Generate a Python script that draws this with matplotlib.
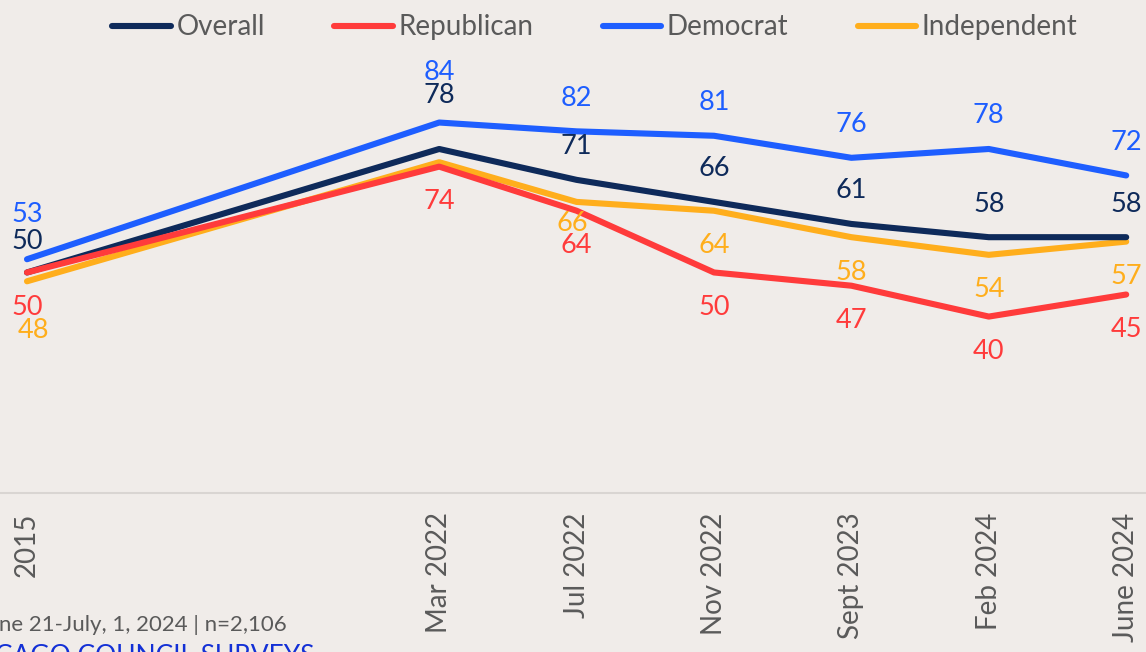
import matplotlib.pyplot as plt

plt.rcParams['font.family'] = ['Lato', 'DejaVu Sans']

c_bg = "#F0ECE9"
c_text = "#5A5A5A"

waves = ["2015", "Mar 2022", "Jul 2022", "Nov 2022", "Sept 2023", "Feb 2024", "June 2024"]
wave_pos = [0, 3, 4, 5, 6, 7, 8]

overall = [50, 78, 71, 66, 61, 58, 58]
republican = [50, 74, 64, 50, 47, 40, 45]
democrat = [53, 84, 82, 81, 76, 78, 72]
independent = [48, 75, 66, 64, 58, 54, 57]

# name, values, colour, label side (-1 above / +1 below), zorder
series = [
    ("Overall", overall, "#0E2A5A", -1, 3),
    ("Republican", republican, "#FF3B3B", 1, 4),
    ("Democrat", democrat, "#1E5EFF", -1, 5),
    ("Independent", independent, "#FFAE1C", 1, 2),
]

# label offset tweaks (pixels) where the labels were nudged in the original
tweaks = {("Overall", 0): (0, 2), ("Overall", 1): (0, -20), ("Democrat", 0): (0, -12),
          ("Democrat", 1): (0, -17), ("Independent", 0): (6, 14),
          ("Independent", 2): (-4, -13)}
hidden = {("Independent", 1)}

fig = plt.figure(figsize=(11.46, 6.52), dpi=100, facecolor=c_bg)
ax = fig.add_axes([0, 0.2439, 1, 0.6764])
ax.set_facecolor(c_bg)

for name, vals, col, side, z in series:
    ax.plot(wave_pos, vals, color=col, linewidth=4.4, solid_capstyle='round',
            solid_joinstyle='round', label=name, zorder=z, clip_on=False)
    for i, (x, v) in enumerate(zip(wave_pos, vals)):
        if (name, i) in hidden:
            continue
        tx, ty = tweaks.get((name, i), (0, 0))
        if side > 0:
            dy = -(35 + ty)
        else:
            dy = 33 - ty
        ax.annotate(str(v), (x, v), xytext=(tx, dy), textcoords='offset pixels',
                    ha='center', va='center', fontsize=19.5, color=col,
                    zorder=10, annotation_clip=False)

ax.set_xlim(-27 / 137.4, 1119 / 137.4)
ax.set_ylim(0, 100)
ax.set_xticks(wave_pos)
ax.set_xticklabels(waves, rotation=90, va='top', fontsize=20, color=c_text)
ax.tick_params(axis='x', length=0, pad=14)
ax.set_yticks([])
for s in ["top", "left", "right"]:
    ax.spines[s].set_visible(False)
ax.spines["bottom"].set_color("#D9D5D2")
ax.spines["bottom"].set_linewidth(1.5)

handles, labels = ax.get_legend_handles_labels()
leg = fig.legend(handles, labels, loc='center', bbox_to_anchor=(0.519, 0.958),
                 ncol=4, frameon=False, fontsize=20, handlelength=2.1,
                 handletextpad=0.2, columnspacing=2.5)
for t in leg.get_texts():
    t.set_color(c_text)
for l in leg.get_lines():
    l.set_linewidth(4.4)
    l.set_solid_capstyle('round')

fig.text(287 / 1146, 1 - 625 / 652, "June 21-July, 1, 2024 | n=2,106",
         ha='right', va='center', fontsize=16, color=c_text)
fig.text(314 / 1146, 1 - 644 / 652, "CHICAGO COUNCIL SURVEYS",
         ha='right', va='top', fontsize=19, color="#1330D6")

fig.savefig("out.png", dpi=100, facecolor=c_bg)
